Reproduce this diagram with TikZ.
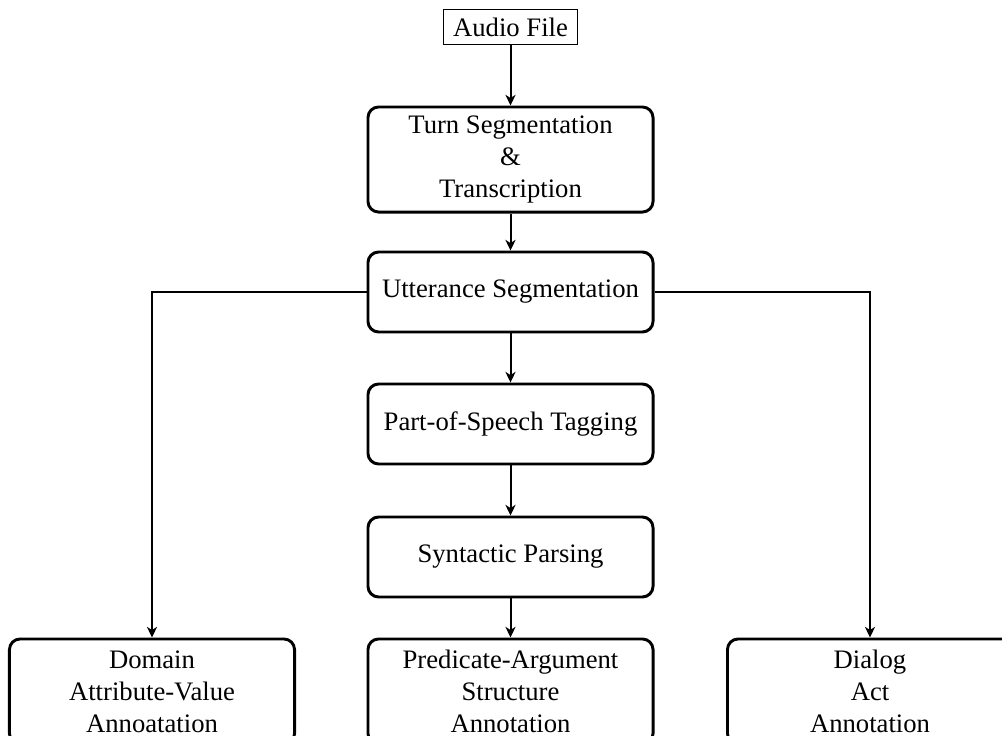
\documentclass[tikz,border=0pt]{standalone}
\usepackage{fontspec}
\setmainfont{Liberation Serif}
\usetikzlibrary{arrows.meta}
\begin{document}
\begin{tikzpicture}[x=0.375pt,y=-0.375pt,
  stage/.style={draw,line width=1.1pt,rounded corners=4pt,minimum width=106.9pt,align=center,inner sep=0pt,font=\fontsize{10}{12}\selectfont},
  short/.style={stage,minimum height=30pt},
  tall/.style={stage,minimum height=39.4pt},
  src/.style={draw,line width=0.4pt,minimum width=50pt,minimum height=13pt,inner sep=0pt,font=\fontsize{10}{12}\selectfont},
  flow/.style={line width=0.75pt,-{Stealth[length=4pt,width=3.8pt,inset=1.2pt]}}]
\useasboundingbox (0,0) rectangle (1002,736);
\node[src] (audio) at (510.5,27) {Audio File};
\node[tall] (turn) at (510.5,159.5) {Turn Segmentation\\\&\\Transcription};
\node[short] (utt) at (510.5,292) {Utterance Segmentation};
\node[short] (pos) at (510.5,424) {Part-of-Speech Tagging};
\node[short] (syn) at (510.5,557) {Syntactic Parsing};
\node[tall] (dom) at (152,691.5) {Domain\\Attribute-Value\\Annoatation};
\node[tall] (pred) at (510.5,691.5) {Predicate-Argument\\Structure\\Annotation};
\node[tall] (dia) at (870,691.5) {Dialog\\Act\\Annotation};
\draw[flow] (audio) -- (turn);
\draw[flow] (turn) -- (utt);
\draw[flow] (utt) -- (pos);
\draw[flow] (pos) -- (syn);
\draw[flow] (syn) -- (pred);
\draw[flow] (utt.west) -| (dom.north);
\draw[flow] (utt.east) -| (dia.north);
\end{tikzpicture}
\end{document}
